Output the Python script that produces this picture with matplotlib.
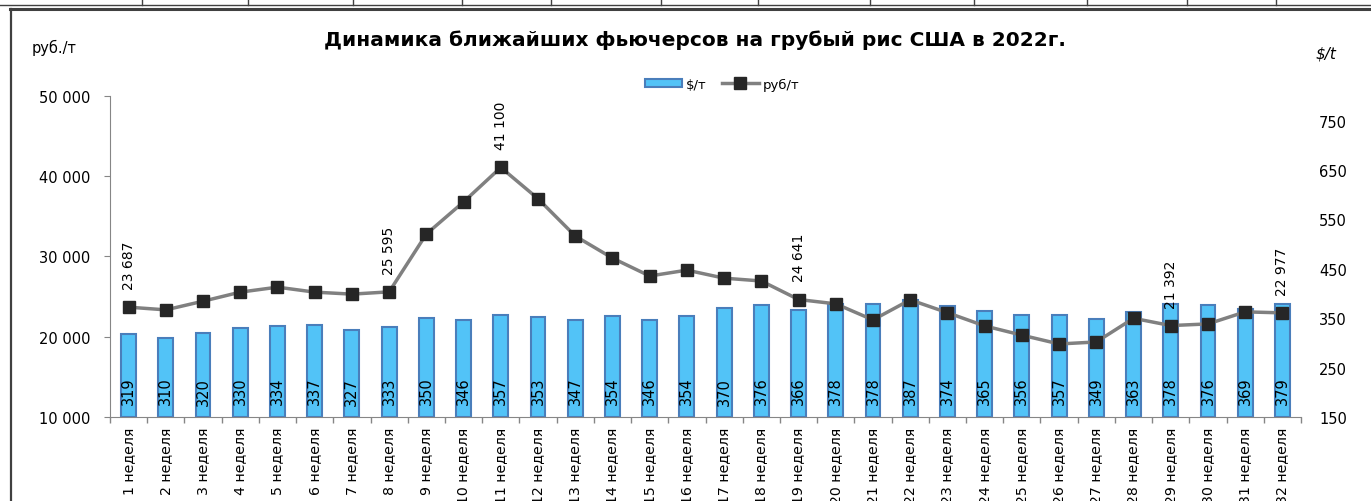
import numpy as np
import matplotlib.pyplot as plt
from matplotlib.lines import Line2D

# weekly data, 2022
weeks = [f"{i} неделя" for i in range(1, 33)]
usd_per_t = [319, 310, 320, 330, 334, 337, 327, 333, 350, 346, 357, 353, 347, 354,
             346, 354, 370, 376, 366, 378, 378, 387, 374, 365, 356, 357, 349, 363,
             378, 376, 369, 379]
rub_per_t = [23687, 23350, 24430, 25560, 26180, 25560, 25310, 25595, 32800, 36800,
             41100, 37200, 32550, 29800, 27570, 28300, 27300, 26950, 24641, 24100,
             22100, 24600, 23000, 21350, 20200, 19100, 19350, 22300, 21392, 21600,
             23100, 22977]
rub_labeled = [0, 7, 10, 18, 28, 31]

W, H = 1371, 502
fig = plt.figure(figsize=(W / 100, H / 100), dpi=100)
fig.patch.set_facecolor('white')

axis_col = '#868686'
x = np.arange(len(weeks))

# bars on the "$/t" scale, drawn first so the line sits on top
ax = fig.add_axes([110 / W, 1 - 418 / H, (1301 - 110) / W, (418 - 97) / H])
ax.bar(x, np.array(usd_per_t) - 150, bottom=150, width=0.4, color='#52C3F7',
       edgecolor='#4A7EBB', linewidth=1.5, label='$/т', zorder=2)
ax.set_ylim(150, 800)
ax.set_xlim(-0.5, len(weeks) - 0.5)
for i, v in enumerate(usd_per_t):
    ax.annotate(str(v), xy=(i, 150), xytext=(0, 19), textcoords='offset points',
                rotation=90, ha='center', va='center', fontsize=10.5, zorder=3)

ax.set_xticks(x)
ax.set_xticklabels(weeks, rotation=90, fontsize=10.2)
ax.set_xticks(np.arange(-0.5, len(weeks)), minor=True)
ax.tick_params(axis='x', which='major', length=0, pad=7)
ax.tick_params(axis='x', which='minor', length=4, color=axis_col, width=1)
for s in ['top', 'right', 'left']:
    ax.spines[s].set_visible(False)
ax.spines['bottom'].set_color(axis_col)

# line on the "руб/т" scale
ax2 = ax.twinx()
ax2.plot(x, rub_per_t, color='#808080', linewidth=2.5, marker='s', markersize=8,
         markerfacecolor='#262626', markeredgecolor='#262626', label='руб/т', zorder=4)
ax2.set_ylim(10000, 50000)
for i in rub_labeled:
    ax2.annotate(f"{rub_per_t[i]:,}".replace(',', ' '), xy=(i, rub_per_t[i]),
                 xytext=(0, 13), textcoords='offset points', rotation=90,
                 ha='center', va='bottom', fontsize=10)
for s in ['top', 'right', 'bottom']:
    ax2.spines[s].set_visible(False)
ax2.spines['left'].set_color(axis_col)

# swap tick sides after twinx (it resets them)
ax.yaxis.tick_right()
ax.set_yticks(np.arange(150, 751, 100))
ax.tick_params(axis='y', length=0, pad=13, labelsize=10.5, colors='black')

ax2.yaxis.tick_left()
ax2.set_yticks(np.arange(10000, 50001, 10000))
ax2.set_yticklabels([f"{v:,}".replace(',', ' ') for v in range(10000, 50001, 10000)])
ax2.tick_params(axis='y', length=4, color=axis_col, pad=10, labelsize=10.5)

fig.text(695 / W, 1 - 40 / H, 'Динамика ближайших фьючерсов на грубый рис США в 2022г.',
         ha='center', va='center', fontsize=14.5, fontweight='bold')
fig.text(32 / W, 1 - 48 / H, 'руб./т', ha='left', va='center', fontsize=10.5)
fig.text(1316 / W, 1 - 54 / H, '$/t', ha='left', va='center', fontsize=11, style='italic')

h1, l1 = ax.get_legend_handles_labels()
h2, l2 = ax2.get_legend_handles_labels()
fig.legend(h1 + h2, l1 + l2, loc='center', bbox_to_anchor=(722 / W, 1 - 85 / H),
           ncol=2, frameon=False, fontsize=9.5, handlelength=2.8, handleheight=0.6,
           columnspacing=1.2, handletextpad=0.3)

# sheet borders around the chart
def px_line(x0, y0, x1, y1, lw, c):
    fig.add_artist(Line2D([x0 / W, x1 / W], [1 - y0 / H, 1 - y1 / H], lw=lw, color=c,
                          transform=fig.transFigure))

px_line(0, 6, W, 6, 1, '#404040')
for xc in [142, 248, 353, 462, 551, 661, 758, 870, 974, 1087, 1187, 1276]:
    px_line(xc, 0, xc, 6, 1, '#404040')
px_line(10, 10, W, 10, 2.2, '#404040')
px_line(11, 10, 11, H, 1.6, '#404040')

fig.savefig('out.png', dpi=100)
